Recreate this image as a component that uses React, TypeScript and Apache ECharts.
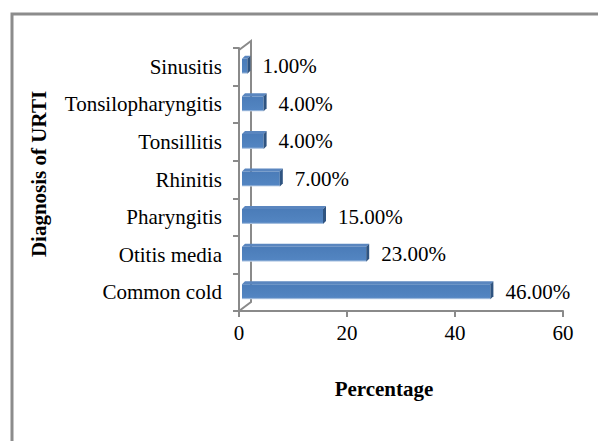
import React, { useEffect, useRef } from "react";
import * as echarts from "echarts";

const categories = ["Common cold", "Otitis media", "Pharyngitis", "Rhinitis", "Tonsillitis", "Tonsilopharyngitis", "Sinusitis"];
const values = [46, 23, 15, 7, 4, 4, 1];
const xTicks = [0, 20, 40, 60];

const FONT = '"Liberation Serif", "Times New Roman", serif';
const AXIS = "#8a8a8a";

export default function App() {
  const ref = useRef<HTMLDivElement>(null);
  useEffect(() => {
    if (!ref.current) return;
    const chart = echarts.init(ref.current, undefined, { renderer: "svg" });
    const gl = 239, gt = 48, gr = 35, gb = 130;
    const H = 441;
    const bottomY = H - gb;
    const dx = 12, dy = 9;
    chart.setOption({
      animation: false,
      backgroundColor: "#fff",
      grid: { left: gl, right: gr, top: gt, bottom: gb },
      xAxis: {
        type: "value",
        min: xTicks[0],
        max: xTicks[xTicks.length - 1],
        interval: 20,
        splitLine: { show: false },
        axisLine: { show: true, lineStyle: { color: AXIS, width: 2 } },
        axisTick: { show: true, length: 6, lineStyle: { color: AXIS, width: 2 } },
        axisLabel: { color: "#000", fontFamily: FONT, fontSize: 21, margin: 11 },
      },
      yAxis: {
        type: "category",
        data: categories,
        axisLine: { show: true, lineStyle: { color: AXIS, width: 2 } },
        axisTick: { show: true, length: 6, lineStyle: { color: AXIS, width: 2 } },
        axisLabel: { color: "#000", fontFamily: FONT, fontSize: 21, margin: 17 },
      },
      graphic: [
        {
          type: "rect",
          shape: { x: 12, y: 14, width: 620, height: 460 },
          style: { fill: "none", stroke: "#8c8c8c", lineWidth: 3 },
          z: 10,
        },
        {
          type: "polyline",
          shape: { points: [[gl, gt + 2], [gl + dx, gt + 2 - dy], [gl + dx, bottomY - dy], [gl, bottomY]] },
          style: { fill: "none", stroke: AXIS, lineWidth: 2 },
          z: 1,
        },
        {
          type: "text",
          x: 39,
          y: 174,
          rotation: Math.PI / 2,
          style: { text: "Diagnosis of URTI", font: `bold 21px ${FONT}`, fill: "#000", textAlign: "center", textVerticalAlign: "middle" },
        },
        {
          type: "text",
          x: 384,
          y: 389,
          style: { text: "Percentage", font: `bold 21px ${FONT}`, fill: "#000", textAlign: "center", textVerticalAlign: "middle" },
        },
      ],
      series: [
        {
          type: "custom",
          encode: { x: 0, y: 1 },
          data: values.map((v, i) => [v, i]),
          renderItem: (params: any, api: any) => {
            const v = api.value(0);
            const idx = api.value(1);
            const p0 = api.coord([0, idx]);
            const p1 = api.coord([v, idx]);
            const off = 3;
            const d = 3;
            const h = 15;
            const fx = p0[0] + off;
            const fw = p1[0] - p0[0];
            const fy = p0[1] - 8;
            return {
              type: "group",
              children: [
                {
                  type: "polygon",
                  shape: { points: [[fx, fy], [fx + d, fy - d], [fx + fw + d, fy - d], [fx + fw, fy]] },
                  style: { fill: "#5a86bf", stroke: "none" },
                },
                {
                  type: "rect",
                  shape: { x: fx, y: fy, width: fw, height: h },
                  style: {
                    fill: new echarts.graphic.LinearGradient(0, 0, 0, 1, [
                      { offset: 0, color: "#4b7cb9" },
                      { offset: 0.5, color: "#4f81bd" },
                      { offset: 0.88, color: "#5385c2" },
                      { offset: 1, color: "#c9d8eb" },
                    ]),
                    stroke: "none",
                  },
                },
                {
                  type: "polygon",
                  shape: { points: [[fx + fw, fy], [fx + fw + d, fy - d], [fx + fw + d, fy + h - d], [fx + fw, fy + h]] },
                  style: { fill: "#2f5481", stroke: "none" },
                },
                {
                  type: "text",
                  x: fx + fw + d + 12,
                  y: fy + h / 2,
                  style: {
                    text: v.toFixed(2) + "%",
                    font: `21px ${FONT}`,
                    fill: "#000",
                    textAlign: "left",
                    textVerticalAlign: "middle",
                  },
                },
              ],
            };
          },
          z: 5,
        },
      ],
    });
    return () => chart.dispose();
  }, []);
  return <div ref={ref} style={{ position: "absolute", left: 0, top: 0, width: 598, height: 441 }} />;
}
